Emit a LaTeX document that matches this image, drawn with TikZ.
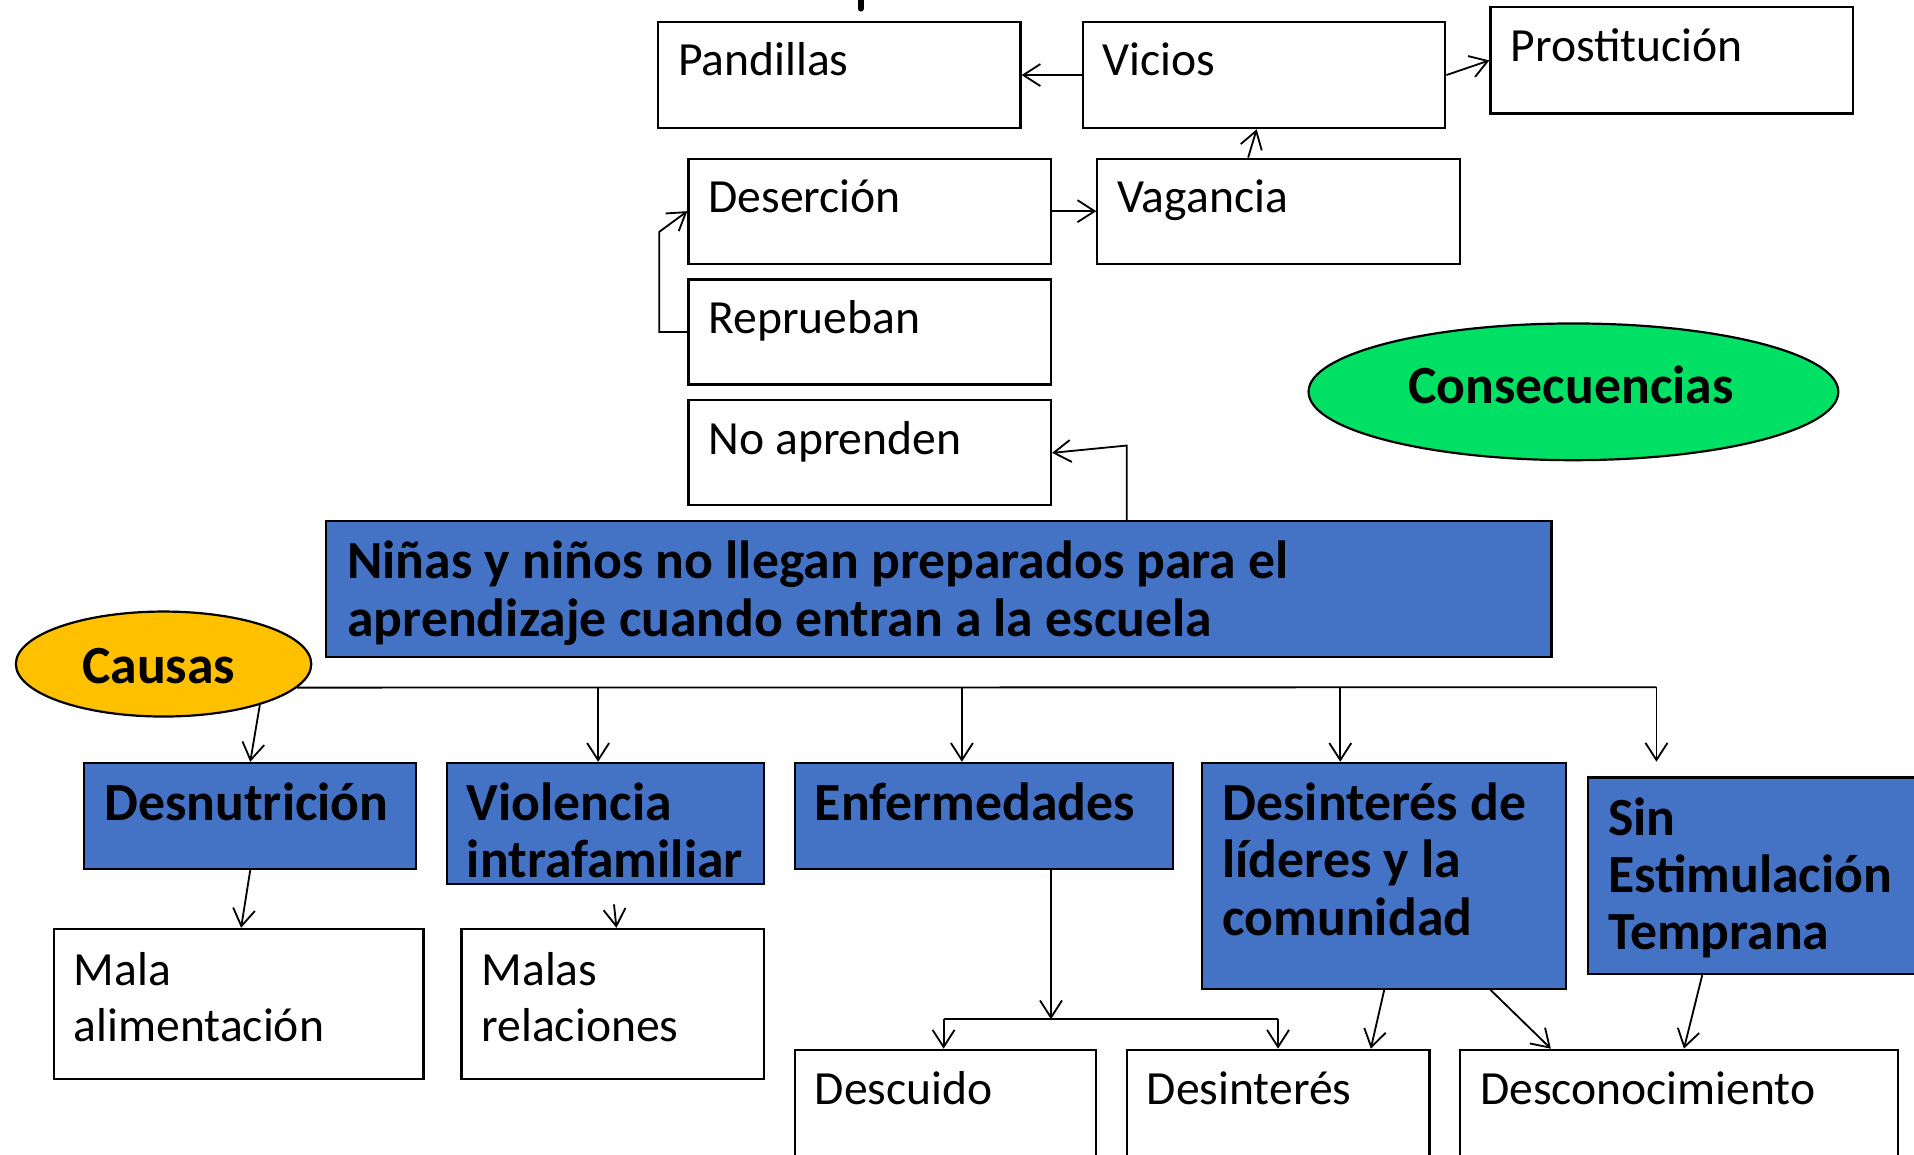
\documentclass[tikz,border=0pt]{standalone}
\usepackage{fontspec}
\setmainfont{Carlito}
\usetikzlibrary{arrows.meta,shapes.geometric,fit}
\definecolor{cblue}{HTML}{4472C4}
\definecolor{cgreen}{HTML}{00E064}
\definecolor{cyellow}{HTML}{FFC000}
\newcommand\mlines[1]{\begin{tabular}[t]{@{}l@{}}#1\end{tabular}}
\begin{document}
\begin{tikzpicture}[x=0.5pt,y=-0.5pt,
 wbox/.style={draw=black,line width=0.9pt,fill=white,inner sep=0pt},
 bbox/.style={draw=black,line width=0.9pt,fill=cblue,inner sep=0pt},
 rtext/.style={anchor=base west,inner sep=0pt,font=\fontsize{19.5}{23}\selectfont},
 btext/.style={anchor=base west,inner sep=0pt,font=\fontsize{22}{23.5}\selectfont\bfseries},
 oval/.style={ellipse,draw=black,line width=0.9pt,inner sep=0pt},
 ovaltext/.style={inner sep=0pt,font=\fontsize{22}{24}\selectfont\bfseries},
 arr/.style={draw=black,line width=0.75pt,-{Straight Barb[length=7pt,width=9pt]}},
 conn/.style={draw=black,line width=0.75pt}]
\useasboundingbox (0,0) rectangle (1568,946);
\clip (0,0) rectangle (1568,946);
\fill[white] (0,0) rectangle (1568,946);
% fragment of a cut-off title glyph
\draw[line width=2.5pt,line cap=round] (705,-5) -- (705,7);
% consequence boxes
\node[wbox,fit={(539,18)(836,105)}] (pand) {};
\node[wbox,fit={(887,18)(1184,105)}] (vic) {};
\node[wbox,fit={(1221,6)(1518,93)}] (pros) {};
\node[wbox,fit={(564,130)(861,216)}] (desr) {};
\node[wbox,fit={(899,130)(1196,216)}] (vag) {};
\node[wbox,fit={(564,229)(861,315)}] (repr) {};
\node[wbox,fit={(564,328)(861,414)}] (noap) {};
\node[rtext] (pandT) at ([shift={(17,45)}]pand.north west) {Pandillas};
\node[rtext] (vicT) at ([shift={(17,45)}]vic.north west) {Vicios};
\node[rtext] (prosT) at ([shift={(17,45)}]pros.north west) {Prostitución};
\node[rtext] (desrT) at ([shift={(17,45)}]desr.north west) {Deserción};
\node[rtext] (vagT) at ([shift={(17,45)}]vag.north west) {Vagancia};
\node[rtext] (reprT) at ([shift={(17,45)}]repr.north west) {Reprueban};
\node[rtext] (noapT) at ([shift={(17,45)}]noap.north west) {No aprenden};
\node[oval,fill=cgreen,minimum width=217pt,minimum height=56pt] (cons) at (1289,321) {};
\node[ovaltext] (consT) at (1287,315) {Consecuencias};
% main problem
\node[bbox,fit={(267,427)(1271,538)}] (title) {};
\node[btext] (titleT) at ([shift={(18,48)}]title.north west) {\mlines{Niñas y niños no llegan preparados para el\\aprendizaje cuando entran a la escuela}};
\node[oval,fill=cyellow,minimum width=121pt,minimum height=43pt] (causas) at (134,544) {};
\node[ovaltext] (causasT) at (130,546) {Causas};
% causes
\node[bbox,fit={(69,625)(341,712)}] (desn) {};
\node[bbox,fit={(366,625)(626,724)}] (viol) {};
\node[bbox,fit={(651,625)(961,712)}] (enf) {};
\node[bbox,fit={(985,625)(1283,810)}] (lid) {};
\node[bbox,fit={(1301,637)(1590,798)}] (sin) {};
\node[btext] (desnT) at ([shift={(17,48)}]desn.north west) {Desnutrición};
\node[btext] (violT) at ([shift={(17,48)}]viol.north west) {\mlines{Violencia\\intrafamiliar}};
\node[btext] (enfT) at ([shift={(17,48)}]enf.north west) {Enfermedades};
\node[btext] (lidT) at ([shift={(17,48)}]lid.north west) {\mlines{Desinterés de\\líderes y la\\comunidad}};
\node[btext] (sinT) at ([shift={(17,48)}]sin.north west) {\mlines{Sin\\Estimulación\\Temprana}};
% effects of causes
\node[wbox,fit={(44,761)(347,884)}] (mala) {};
\node[wbox,fit={(378,761)(626,884)}] (rel) {};
\node[wbox,fit={(651,860)(898,990)}] (desc) {};
\node[wbox,fit={(923,860)(1171,990)}] (desi) {};
\node[wbox,fit={(1196,860)(1555,990)}] (descon) {};
\node[rtext] (malaT) at ([shift={(17,47)}]mala.north west) {\mlines{Mala\\alimentación}};
\node[rtext] (relT) at ([shift={(17,47)}]rel.north west) {\mlines{Malas\\relaciones}};
\node[rtext] (descT) at ([shift={(17,46)}]desc.north west) {Descuido};
\node[rtext] (desiT) at ([shift={(17,46)}]desi.north west) {Desinterés};
\node[rtext] (desconT) at ([shift={(17,46)}]descon.north west) {Desconocimiento};
% connectors: consequences
\draw[arr] (vic.west) -- (pand.east);
\draw[arr] (vic.east) -- (pros.west);
\draw[arr] ([shift={(-25,0)}]vag.north) -- ([shift={(-6,0)}]vic.south);
\draw[arr] (desr.east) -- (vag.west);
\coordinate (rk) at (540,190);
\draw[arr] (repr.west) -- (repr.west -| rk) -- (rk) -- (desr.west);
\coordinate (tk) at (923,365);
\draw[arr] (title.north -| tk) -- (tk) -- (noap.east);
% connectors: causes
\coordinate (b1) at (490,563);
\coordinate (b2) at (788,563);
\coordinate (b3) at (1098,563);
\coordinate (b4) at (1357,563);
\coordinate (sinA) at (1357,624);
\draw[conn] (causas.-10) -- (b4);
\draw[arr] (causas.-23) -- (desn.north);
\draw[arr] (b1) -- (b1 |- viol.north);
\draw[arr] (b2) -- (b2 |- enf.north);
\draw[arr] (b3) -- (b3 |- lid.north);
\draw[arr] (b4) -- (sinA);
\draw[arr] (desn.south) -- ([shift={(2,0)}]mala.north);
\draw[arr] ([shift={(7,16)}]viol.south) -- ([shift={(3,0)}]rel.north);
\coordinate (eb) at (861,835);
\coordinate (ebl) at (773,835);
\coordinate (ebr) at (1047,835);
\draw[arr] (enf.south -| eb) -- (eb);
\draw[conn] (ebl) -- (ebr);
\draw[arr] (ebl) -- (ebl |- desc.north);
\draw[arr] (ebr) -- (ebr |- desi.north);
\draw[arr] (lid.south) -- ([shift={(76,0)}]desi.north);
\draw[arr] ([shift={(87,0)}]lid.south) -- ([shift={(-105,0)}]descon.north);
\draw[arr] ([shift={(-51,0)}]sin.south) -- ([shift={(4,0)}]descon.north);
\end{tikzpicture}
\end{document}
